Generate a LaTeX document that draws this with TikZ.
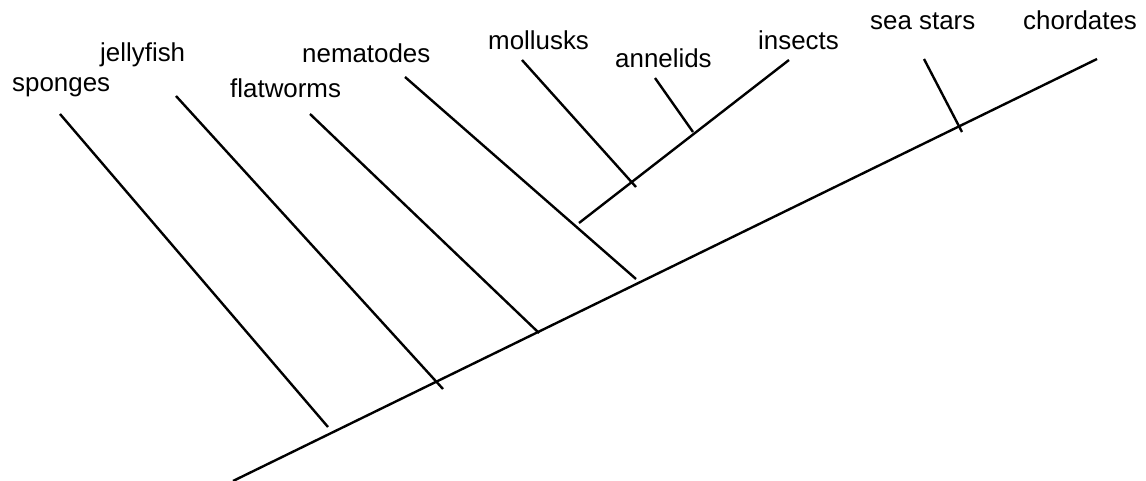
\documentclass[tikz,border=0pt]{standalone}
\usepackage{fontspec}
\setmainfont{Liberation Sans}
\usepackage{tikz}

\begin{document}
\begin{tikzpicture}[x=1bp, y=-1bp,
        taxon/.style={anchor=base west, inner sep=0pt, font=\fontsize{26}{30}\selectfont},
        branch/.style={line width=2.4bp}
    ]
        \useasboundingbox (0,0) rectangle (1146,481);

        % Labels
        \node[taxon] (sponges) at (12,92) {sponges};
        \node[taxon] (jellyfish) at (100,62) {jellyfish};
        \node[taxon] (flatworms) at (230,98) {flatworms};
        \node[taxon] (nematodes) at (302,63) {nematodes};
        \node[taxon] (mollusks) at (488,50) {mollusks};
        \node[taxon] (annelids) at (615,68) {annelids};
        \node[taxon] (insects) at (758,50) {insects};
        \node[taxon] (seastars) at (870,30) {sea stars};
        \node[taxon] (chordates) at (1023,30) {chordates};

        % Tips and branch points
        \coordinate (root) at (233,481);
        \coordinate (chord_tip) at (1097,59);
        \coordinate (sponge_tip) at (60,114);
        \coordinate (sponge_end) at (328,427);
        \coordinate (jelly_tip) at (176,96);
        \coordinate (jelly_end) at (443,389);
        \coordinate (flat_tip) at (310,114);
        \coordinate (flat_end) at (539,333);
        \coordinate (nema_tip) at (405,77);
        \coordinate (nema_end) at (636,279);
        \coordinate (proto_base) at (579,223);
        \coordinate (insect_tip) at (789,60);
        \coordinate (mollusk_tip) at (522,60);
        \coordinate (mollusk_end) at (636,187);
        \coordinate (annelid_tip) at (655,78);
        \coordinate (annelid_end) at (693,132);
        \coordinate (star_tip) at (924,59);
        \coordinate (star_end) at (962,132);

        % Edges
        \draw[branch] (root) -- (chord_tip);
        \draw[branch] (sponge_tip) -- (sponge_end);
        \draw[branch] (jelly_tip) -- (jelly_end);
        \draw[branch] (flat_tip) -- (flat_end);
        \draw[branch] (nema_tip) -- (nema_end);
        \draw[branch] (proto_base) -- (insect_tip);
        \draw[branch] (mollusk_tip) -- (mollusk_end);
        \draw[branch] (annelid_tip) -- (annelid_end);
        \draw[branch] (star_tip) -- (star_end);

    \end{tikzpicture}
\end{document}
